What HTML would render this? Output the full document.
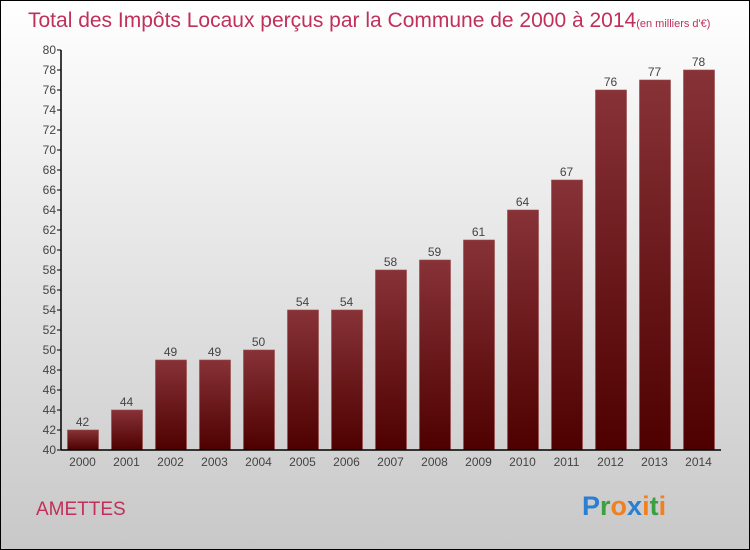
<!DOCTYPE html>
<html><head><meta charset="utf-8"><style>
body{margin:0;}
svg{display:block;font-family:"Liberation Sans",sans-serif;}
</style></head><body>
<svg id="c" width="750" height="550">
<defs>
<linearGradient id="bg" x1="0" y1="0" x2="0" y2="1"><stop offset="0" stop-color="#ffffff"/><stop offset="1" stop-color="#c8c8c8"/></linearGradient>
<linearGradient id="bar" x1="0" y1="0" x2="0" y2="1"><stop offset="0" stop-color="#873237"/><stop offset="1" stop-color="#4e0000"/></linearGradient>
</defs>
<rect x="0.5" y="0.5" width="749" height="549" fill="url(#bg)" stroke="#000"/>
<text x="28" y="27" font-size="21" fill="#c0305a">Total des Impôts Locaux perçus par la Commune de 2000 à 2014<tspan font-size="11">(en milliers d'€)</tspan></text>
<text x="36" y="515" font-size="19" fill="#c0305a">AMETTES</text>
<text x="582" y="515" font-size="27" font-weight="bold"><tspan fill="#2a7fd0">P</tspan><tspan fill="#3aa040">r</tspan><tspan fill="#f08020">o</tspan><tspan fill="#2a7fd0">x</tspan><tspan fill="#f08020">i</tspan><tspan fill="#3aa040">t</tspan><tspan fill="#f08020">i</tspan></text>
<g id="plot"></g>
</svg>
<script>
const years=["2000","2001","2002","2003","2004","2005","2006","2007","2008","2009","2010","2011","2012","2013","2014"];
const values=[42,44,49,49,50,54,54,58,59,61,64,67,76,77,78];
const yTicks=[40,42,44,46,48,50,52,54,56,58,60,62,64,66,68,70,72,74,76,78,80];
const NS="http://www.w3.org/2000/svg";
const g=document.getElementById('plot');
const x0=61,x1=721,yMin=40,yMax=80,py0=450,py1=50;
const y=v=>py0-(v-yMin)/(yMax-yMin)*(py0-py1);
const step=44;
const xc=i=>82.5+step*i;
function el(t,a){const e=document.createElementNS(NS,t);for(const k in a)e.setAttribute(k,a[k]);g.appendChild(e);return e;}
values.forEach((v,i)=>{
 const r=el('rect',{x:xc(i)-15,y:y(v),width:31,height:py0-y(v),fill:'url(#bar)',stroke:'#9a4a4a','stroke-width':0.6});
 
 
 const t=el('text',{x:xc(i),y:y(v)-4,'font-size':12,fill:'#444','text-anchor':'middle'});t.textContent=v;
 
 
 const xl=el('text',{x:xc(i),y:py0+16,'font-size':12,fill:'#444','text-anchor':'middle'});xl.textContent=years[i];
 
 
});
yTicks.forEach(v=>{
 el('line',{x1:x0-4,x2:x0,y1:y(v),y2:y(v),stroke:'#000'});
 const t=el('text',{x:x0-5,y:y(v)+4,'font-size':12,fill:'#444','text-anchor':'end'});t.textContent=v;
 
 
});
const ya=el('line',{x1:x0,x2:x0,y1:py1,y2:py0,stroke:'#000','stroke-width':1.5});


const xa=el('line',{x1:x0,x2:x1,y1:py0,y2:py0,stroke:'#000','stroke-width':1.5});


</script>
</body></html>
